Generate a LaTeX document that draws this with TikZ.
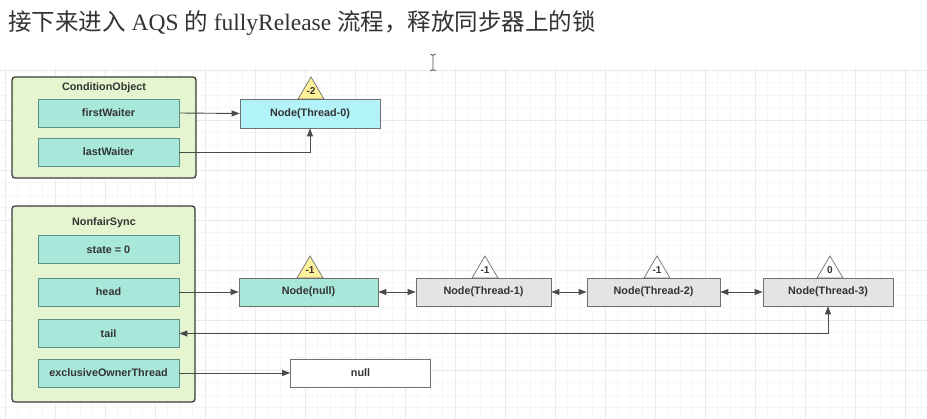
\documentclass[tikz,border=0pt]{standalone}
\usepackage{fontspec}
\setmainfont{Liberation Serif}
\setsansfont{Liberation Sans}
\newfontfamily\cjkfont{Noto Sans CJK SC}
\usetikzlibrary{arrows.meta}
\definecolor{outerfill}{HTML}{E4F5D0}
\definecolor{outerline}{HTML}{3A3A3A}
\definecolor{fieldfill}{HTML}{A8E8DA}
\definecolor{fieldline}{HTML}{5E8F84}
\definecolor{cyanfill}{HTML}{B2F3FA}
\definecolor{grayfill}{HTML}{E4E4E4}
\definecolor{grayline}{HTML}{707070}
\definecolor{yellowfill}{HTML}{FFF29A}
\definecolor{linecol}{HTML}{4A4A4A}
\definecolor{textcol}{HTML}{333333}
\definecolor{minorgrid}{HTML}{F6F6F6}
\definecolor{majorgrid}{HTML}{EAEAEA}
\tikzset{
  outerbox/.style={draw=outerline, line width=1.3pt, fill=outerfill, rounded corners=3pt, inner sep=0pt},
  boxtitle/.style={font=\sffamily\bfseries\fontsize{10.8}{12}\selectfont, text=textcol, inner sep=0pt},
  field/.style={draw=fieldline, line width=0.8pt, fill=fieldfill, minimum width=141pt, minimum height=28pt, inner sep=0pt,
    font=\sffamily\bfseries\fontsize{10.8}{12}\selectfont, text=textcol},
  listnode/.style={draw=grayline, line width=0.8pt, minimum height=28pt, inner sep=0pt,
    font=\sffamily\bfseries\fontsize{10.8}{12}\selectfont, text=textcol},
  tri/.style={draw=grayline, line width=0.7pt, line join=miter},
  trilabel/.style={font=\sffamily\bfseries\fontsize{10}{11}\selectfont, text=textcol, inner sep=0pt},
  conn/.style={draw=linecol, line width=0.9pt, -{Triangle[length=8pt,width=6pt]}},
  biconn/.style={draw=linecol, line width=0.9pt, {Triangle[length=8pt,width=6pt]}-{Triangle[length=8pt,width=6pt]}}
}
\newcommand\flagtri[5]{%
  \draw[tri, fill=#4] ({#2-13},#3) -- (#2,{#3-22}) -- ({#2+13},#3) -- cycle;
  \node[trilabel] (#1) at (#2,{#3-8}) {#5};
}
\begin{document}
\begin{tikzpicture}[x=1pt,y=-1pt]
\useasboundingbox (0,0) rectangle (927,419);
\fill[white] (0,0) rectangle (927,419);
% grid
\foreach \i in {0,...,74} \draw[minorgrid, line width=0.6pt] ({5+12.5*\i},68) -- ({5+12.5*\i},419);
\foreach \j in {0,...,28} \draw[minorgrid, line width=0.6pt] (0,{70+12.5*\j}) -- (927,{70+12.5*\j});
\foreach \i in {0,...,18} \draw[majorgrid, line width=0.8pt] ({5+50*\i},68) -- ({5+50*\i},419);
\foreach \j in {0,...,7} \draw[majorgrid, line width=0.8pt] (0,{70+50*\j}) -- (927,{70+50*\j});
% cursor
\draw[linecol, line width=0.9pt] (433,55) -- (433,70) (430.5,54) -- (432,55) -- (434,55) -- (435.5,54) (430.5,71) -- (432,70) -- (434,70) -- (435.5,71);
% title
\node[anchor=west, inner sep=0pt, text=textcol, font=\fontsize{23.5}{26}\selectfont] (title) at (8,23)
  {{\cjkfont 接下来进入} AQS {\cjkfont 的} fullyRelease {\cjkfont 流程，释放同步器上的锁}};
% ConditionObject
\node[outerbox, minimum width=184pt, minimum height=101pt] (co) at (104,127.5) {};
\node[boxtitle] (cotitle) at (104,87.5) {ConditionObject};
\node[field] (fw) at (108.5,113) {firstWaiter};
\node[field] (lw) at (108.5,152) {lastWaiter};
\node[listnode, fill=cyanfill, minimum width=140pt, minimum height=29pt] (n0) at (310,113.5) {Node(Thread-0)};
\flagtri{w0}{311}{99}{yellowfill}{-2}
% NonfairSync
\node[outerbox, minimum width=183pt, minimum height=196pt] (ns) at (103.5,304) {};
\node[boxtitle] (nstitle) at (104,222.5) {NonfairSync};
\node[field] (st) at (108.5,249.5) {state = 0};
\node[field] (hd) at (108.5,292) {head};
\node[field] (tl) at (108.5,333.5) {tail};
\node[field] (eo) at (108.5,373) {exclusiveOwnerThread};
% list
\node[listnode, fill=fieldfill, minimum width=139pt] (nn) at (308.5,292) {Node(null)};
\node[listnode, fill=grayfill, minimum width=135pt] (t1) at (483.5,292) {Node(Thread-1)};
\node[listnode, fill=grayfill, minimum width=133pt] (t2) at (653.5,292) {Node(Thread-2)};
\node[listnode, fill=grayfill, minimum width=130pt] (t3) at (828,292) {Node(Thread-3)};
\node[listnode, fill=white, minimum width=140pt] (nl) at (360.5,373) {null};
\flagtri{wn}{310}{278}{yellowfill}{-1}
\flagtri{w1}{485}{278}{white}{-1}
\flagtri{w2}{657}{278}{white}{-1}
\flagtri{w3}{830}{278}{white}{0}
% connectors
\draw[conn] (fw.east) -- (n0.west);
\draw[conn] (lw.east) -| (n0.south);
\draw[conn] (hd.east) -- (nn.west);
\draw[biconn] (nn.east) -- (t1.west);
\draw[biconn] (t1.east) -- (t2.west);
\draw[biconn] (t2.east) -- (t3.west);
\draw[biconn] (tl.east) -| (t3.south);
\draw[conn] (eo.east) -- (nl.west);
\end{tikzpicture}
\end{document}
